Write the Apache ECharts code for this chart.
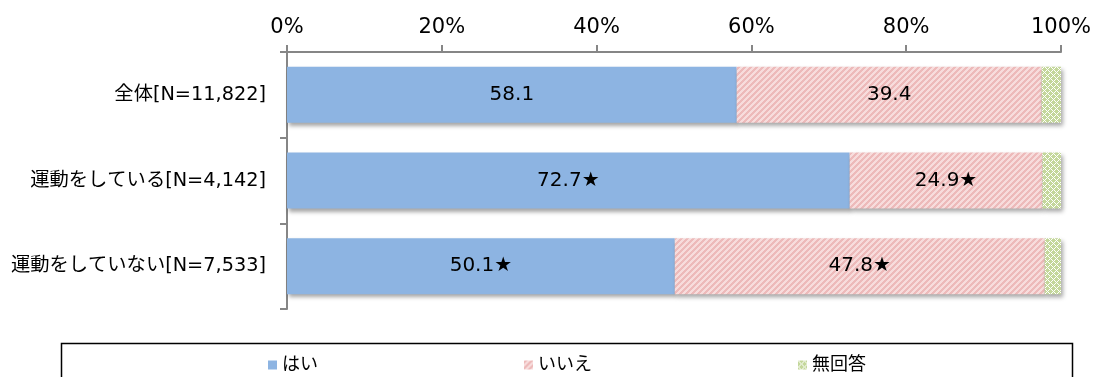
<!DOCTYPE html>
<html><head><meta charset="utf-8">
<script src="https://cdn.jsdelivr.net/npm/echarts@6/dist/echarts.min.js"></script>
<style>html,body{margin:0;padding:0;background:#fff}#c{width:1095px;height:377px}</style>
</head><body><div id="c"></div>
<script>
const categories = ['全体[N=11,822]', '運動をしている[N=4,142]', '運動をしていない[N=7,533]'];
const seriesNames = ['はい', 'いいえ', '無回答'];
const yesValues = [58.1, 72.7, 50.1];
const noValues = [39.4, 24.9, 47.8];
const naValues = [2.5, 2.4, 2.1];
const yesLabels = ['58.1', '72.7★', '50.1★'];
const noLabels = ['39.4', '24.9★', '47.8★'];
const tickLabels = ['0%', '20%', '40%', '60%', '80%', '100%'];

const FONT = '"DejaVu Sans", "Noto Sans CJK JP", sans-serif';

function makePattern(size, fn) {
  const c = document.createElement('canvas');
  c.width = size; c.height = size;
  const ctx = c.getContext('2d');
  for (let x = 0; x < size; x++) for (let y = 0; y < size; y++) {
    ctx.fillStyle = fn(x, y);
    ctx.fillRect(x, y, 1, 1);
  }
  return c;
}
const pinkPat = makePattern(6, (x, y) => ((x + y) % 6) < 3 ? '#EDBABA' : '#F7DCDC');
const greenPat = makePattern(6, (x, y) => (((x + y) % 6) === 0 || ((x - y + 6) % 6) === 0) ? '#FFFFFF' : '#C4D79B');

const shadow = {shadowColor: 'rgba(0,0,0,0.35)', shadowBlur: 4, shadowOffsetX: 2, shadowOffsetY: 3};
const axisColor = '#868686';

const chart = echarts.init(document.getElementById('c'), null, {renderer: 'canvas'});
chart.setOption({
  animation: false,
  backgroundColor: '#fff',
  grid: {left: 287, right: 34, top: 52, bottom: 68, containLabel: false},
  xAxis: {
    type: 'value', position: 'top', min: 0, max: 100, interval: 20,
    axisLine: {show: true, lineStyle: {color: axisColor, width: 2}},
    axisTick: {show: true, length: 7, lineStyle: {color: axisColor, width: 2}},
    splitLine: {show: false},
    axisLabel: {margin: 14, color: '#000', fontSize: 21, fontFamily: FONT,
      formatter: (v) => tickLabels[Math.round(v / 20)]}
  },
  yAxis: {
    type: 'category', inverse: true, data: categories,
    axisLine: {show: true, lineStyle: {color: axisColor, width: 2}},
    axisTick: {show: true, length: 7, lineStyle: {color: axisColor, width: 2}},
    axisLabel: {margin: 21, color: '#000', fontSize: 19.3, fontFamily: FONT}
  },
  legend: {
    left: 263, top: 351, itemWidth: 9, itemHeight: 9, itemGap: 206,
    icon: 'rect',
    textStyle: {fontSize: 18, color: '#000', fontFamily: FONT},
    data: seriesNames
  },
  graphic: [{
    type: 'rect', left: 59, top: 341,
    shape: {width: 1011, height: 60},
    style: {fill: 'none', stroke: '#000', lineWidth: 1.5},
    silent: true
  }],
  series: [
    {name: seriesNames[0], type: 'bar', stack: 't', barWidth: 56, data: yesValues,
      itemStyle: Object.assign({color: '#8DB4E2'}, shadow),
      label: {show: true, position: 'inside', color: '#000', fontSize: 20, fontFamily: FONT,
        formatter: (p) => yesLabels[p.dataIndex]}},
    {name: seriesNames[1], type: 'bar', stack: 't', barWidth: 56, data: noValues,
      itemStyle: Object.assign({color: {image: pinkPat, repeat: 'repeat'}}, shadow),
      label: {show: true, position: 'inside', color: '#000', fontSize: 20, fontFamily: FONT,
        formatter: (p) => noLabels[p.dataIndex]}},
    {name: seriesNames[2], type: 'bar', stack: 't', barWidth: 56, data: naValues,
      itemStyle: Object.assign({color: {image: greenPat, repeat: 'repeat'}}, shadow),
      label: {show: false}}
  ]
});
</script></body></html>
